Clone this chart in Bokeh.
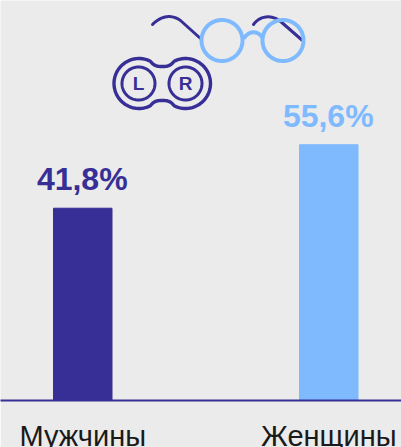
import numpy as np
from bokeh.plotting import figure
from bokeh.embed import file_html
from bokeh.resources import INLINE
from bokeh.core.properties import value
from bokeh.models import ColumnDataSource

categories = ["Мужчины", "Женщины"]
values = [41.8, 55.6]
labels = ["41,8%", "55,6%"]
colors = ["#372F96", "#7FBAFF"]
BG = "#EBEBEB"
DARK = "#372F96"
LIGHT = "#7FBAFF"

W, H, BASE = 401, 447, 400
PX = 4.6      # pixels per percent
STEP = 246.0  # pixels per category
X0 = 82.25    # pixel of first category

p = figure(width=W, height=H, frame_height=BASE, output_backend="svg", toolbar_location=None,
           x_range=(-X0 / STEP, (W - X0) / STEP), y_range=(0, BASE / PX),
           min_border=0, min_border_left=0, min_border_right=0, min_border_top=0,
           min_border_bottom=0, background_fill_color=BG, border_fill_color=BG,
           outline_line_color=None)
p.grid.visible = False
p.yaxis.visible = False
ax = p.xaxis[0]
ax.ticker = [0, 1]
ax.major_label_overrides = {0: categories[0], 1: categories[1]}
ax.axis_line_color = DARK
ax.axis_line_width = 2
ax.major_tick_line_color = None
ax.minor_tick_line_color = None
ax.major_label_text_font = "Liberation Sans"
ax.major_label_text_font_size = "29px"
ax.major_label_text_color = "#1a1a1a"
ax.major_label_standoff = 13

xs = [0, 1]
src = ColumnDataSource(dict(x=xs, top=values, color=colors, label=labels))
p.vbar(x="x", top="top", bottom=0, width=58.5 / STEP, color="color", source=src)
p.text(x="x", y="top", text="label", text_color="color", source=src,
       text_font=value("Liberation Sans"), text_font_style="bold",
       text_font_size="32px", text_align="center", text_baseline="bottom", y_offset=-11,
       x_offset=-0.5)


# decorative icon, given in page pixels
def dx(px):
    return (np.asarray(px, float) - X0) / STEP


def dy(py):
    return (BASE - np.asarray(py, float)) / PX


def bez(p0, p1, p2, p3, n=30):
    t = np.linspace(0, 1, n)[:, None]
    a, b, c, d = map(np.array, (p0, p1, p2, p3))
    return (1 - t) ** 3 * a + 3 * (1 - t) ** 2 * t * b + 3 * (1 - t) * t ** 2 * c + t ** 3 * d


def stroke(pts, color, width):
    pts = np.asarray(pts, float)
    p.line(dx(pts[:, 0]), dy(pts[:, 1]), line_color=color, line_width=width, line_cap="round")


def ring(cx, cy, r, color, width):
    t = np.linspace(0, 2 * np.pi, 120)
    stroke(np.c_[cx + r * np.cos(t), cy + r * np.sin(t)], color, width)


# temples
stroke(np.vstack([bez((152, 24), (160, 16), (170, 13), (180, 20)), [[200, 38]]]), DARK, 3)
stroke(np.vstack([bez((253, 24), (258, 17), (268, 13), (279, 20)), [[302, 40]]]), DARK, 3)
# rims and bridge
ring(221.5, 40, 20.5, LIGHT, 4)
ring(282.5, 40, 20.5, LIGHT, 4)
stroke(bez((244, 37), (249, 30), (257, 30), (262, 37)), LIGHT, 4)


def case_outline(cxl, cxr, cy, r, waist):
    a = np.linspace(np.pi * 0.35, np.pi * 1.65, 50)
    left = np.c_[cxl + r * np.cos(a), cy - r * np.sin(a)]
    right = np.c_[cxr - r * np.cos(a[::-1]), cy - r * np.sin(a[::-1])]
    mid = (cxl + cxr) / 2
    top = bez([cxl + r * np.cos(a[0]), cy - r * np.sin(a[0])],
              [mid - 8, cy - waist], [mid - 4, cy - waist], [mid, cy - waist], 12)
    top2 = bez([mid, cy - waist], [mid + 4, cy - waist], [mid + 8, cy - waist],
               [cxr - r * np.cos(a[0]), cy - r * np.sin(a[0])], 12)
    bot = top[::-1] * [1, -1] + [0, 2 * cy]
    bot2 = top2[::-1] * [1, -1] + [0, 2 * cy]
    return np.vstack([left[::-1], top, top2, right[::-1], bot2, bot])


stroke(case_outline(138.5, 185, 83, 25, 17), DARK, 3.4)
ring(138, 83, 16.5, DARK, 3)
ring(185, 83, 16.5, DARK, 3)
p.text(dx([138, 185]), dy([83, 83]), text=["L", "R"], text_color=DARK,
       text_font=value("Liberation Sans"), text_font_style="bold", text_font_size="19px",
       text_align="center", text_baseline="middle")

open("out.html", "w").write(file_html(p, INLINE))
